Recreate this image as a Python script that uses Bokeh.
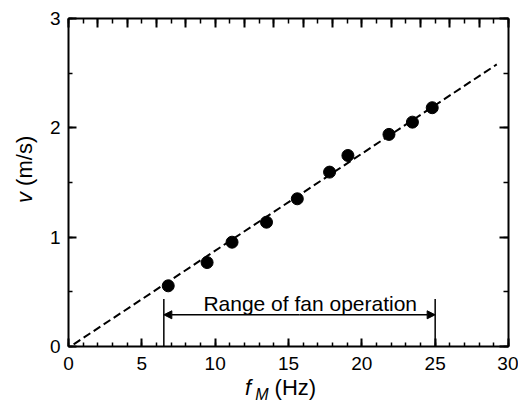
from bokeh.plotting import figure
from bokeh.models import (LinearAxis, SingleIntervalTicker, Range1d, Label,
                          Arrow, NormalHead, Div, CustomJSTickFormatter)
from bokeh.layouts import column, row
from bokeh.embed import file_html
from bokeh.resources import INLINE

# measured data
f_hz = [6.8, 9.45, 11.15, 13.5, 15.6, 17.8, 19.05, 21.85, 23.45, 24.8]
v_ms = [0.555, 0.768, 0.954, 1.137, 1.351, 1.595, 1.747, 1.94, 2.052, 2.184]

# linear fit (dashed line end points)
fit_f = [0.35, 29.2]
fit_v = [0.02, 2.58]

# range of fan operation
range_f = [6.5, 25.0]
range_top = 0.435
arrow_v = 0.29
range_text = "Range of fan operation"

x_ticks_major = 5
y_ticks_major = 1

FONT = "Liberation Sans"

p = figure(width=478, height=380, x_range=Range1d(0, 30), y_range=Range1d(0, 3),
           output_backend="svg", toolbar_location=None,
           x_axis_type=None, y_axis_type=None,
           min_border_left=28, min_border_right=10, min_border_top=18,
           min_border_bottom=34, margin=0)
p.outline_line_color = None
p.background_fill_color = "white"
p.border_fill_color = "white"

blank = CustomJSTickFormatter(code="return ''")


def style(ax, major_in, minor_in, labels=True, standoff=8):
    ax.axis_line_width = 2
    ax.axis_line_color = "black"
    ax.major_tick_in = major_in
    ax.major_tick_out = 0
    ax.minor_tick_in = minor_in
    ax.minor_tick_out = 0
    ax.major_tick_line_width = 2
    ax.minor_tick_line_width = 1.5
    ax.major_tick_line_color = "black"
    ax.minor_tick_line_color = "black"
    if labels:
        ax.major_label_text_font = FONT
        ax.major_label_text_font_size = "19px"
        ax.major_label_text_color = "black"
        ax.major_label_standoff = standoff
    else:
        ax.formatter = blank
        ax.major_label_standoff = 0


bottom = LinearAxis(ticker=SingleIntervalTicker(interval=x_ticks_major, num_minor_ticks=5))
style(bottom, 8, 4, standoff=10)
left = LinearAxis(ticker=SingleIntervalTicker(interval=y_ticks_major, num_minor_ticks=2))
style(left, 8, 4, standoff=8)
top = LinearAxis(ticker=SingleIntervalTicker(interval=2, num_minor_ticks=2))
style(top, 9, 5, labels=False)
right = LinearAxis(ticker=SingleIntervalTicker(interval=y_ticks_major, num_minor_ticks=2))
style(right, 9, 5, labels=False)
p.add_layout(bottom, "below")
p.add_layout(left, "left")
p.add_layout(top, "above")
p.add_layout(right, "right")

# fit line and data
p.line(fit_f, fit_v, line_color="black", line_width=2, line_dash="8 4")
p.scatter(f_hz, v_ms, size=12, color="black")

# range markers
p.segment(x0=range_f, y0=[0, 0], x1=range_f, y1=[range_top, range_top],
          line_color="black", line_width=1.5)
for xe in range_f:
    p.add_layout(Arrow(x_start=sum(range_f) / 2, y_start=arrow_v,
                       x_end=xe, y_end=arrow_v,
                       end=NormalHead(size=8, fill_color="black", line_color="black"),
                       line_width=1.5, line_color="black"))
p.add_layout(Label(x=16.48, y=0.396, text=range_text, text_align="center",
                   text_baseline="alphabetic", text_font=FONT,
                   text_font_size="21px", text_color="black"))

# axis titles (mixed italic / upright), as HTML text next to the figure
y_title = Div(width=40, height=380, margin=0, text=(
    '<div style="position:relative;width:40px;height:380px;">'
    '<span style="position:absolute;left:14px;top:203px;'
    'transform:rotate(-90deg);transform-origin:0 0;white-space:nowrap;'
    "font-family:'Liberation Sans';font-size:22px;line-height:22px;color:#000;\">"
    '<i>v</i> (m/s)</span></div>'))
x_title = Div(width=518, height=22, margin=0, text=(
    '<div style="position:relative;width:518px;height:22px;">'
    '<span style="position:absolute;left:245px;top:-3px;white-space:nowrap;'
    "font-family:'Liberation Sans';font-size:22px;line-height:22px;color:#000;\">"
    '<i>f</i><span style="position:relative;top:5px;font-size:16px;'
    'font-style:italic;margin-left:4px;">M</span> (Hz)</span></div>'))

layout = column(row(y_title, p, spacing=0), x_title, spacing=0)

open("out.html", "w").write(file_html(layout, INLINE))
